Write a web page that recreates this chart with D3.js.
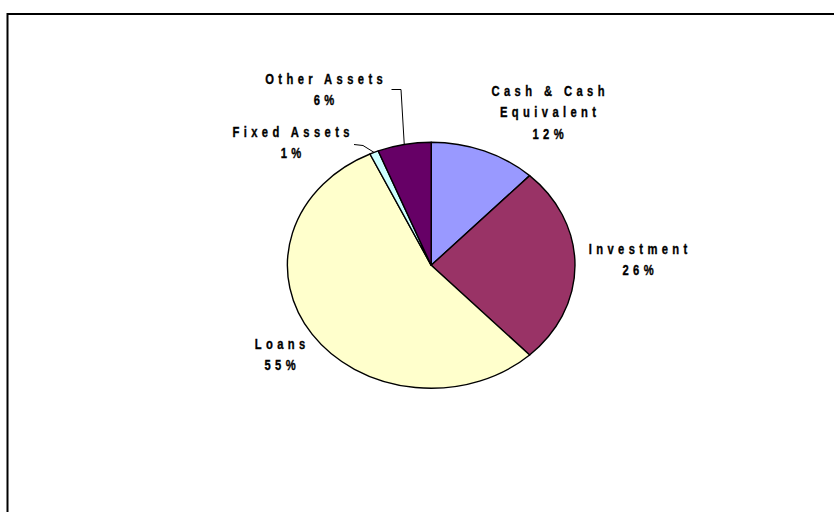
<!DOCTYPE html>
<html>
<head>
<meta charset="utf-8">
<script src="https://cdn.jsdelivr.net/npm/d3@7"></script>
<style>
  html, body { margin: 0; padding: 0; background: #fff; }
  svg { display: block; }
</style>
</head>
<body>
<svg id="chart" width="834" height="512"></svg>
<script>
// Asset composition (percent of total)
const categories = ["Cash & Cash Equivalent", "Investment", "Loans", "Fixed Assets", "Other Assets"];
const shares = [12, 26, 55, 1, 6];
const sliceColors = ["#9999FF", "#993366", "#FFFFCC", "#CCFFFF", "#660066"];

// Label text split into lines
const labelLines = [
  ["Cash & Cash", "Equivalent"],
  ["Investment"],
  ["Loans"],
  ["Fixed Assets"],
  ["Other Assets"]
];

// Label placement (centre x, first line baseline y)
const labelLayout = {
  "Cash & Cash Equivalent": { x: 548, y: 95.5 },
  "Investment": { x: 638, y: 253.5 },
  "Loans": { x: 280, y: 348.5 },
  "Fixed Assets": { x: 291, y: 136.5 },
  "Other Assets": { x: 324, y: 83.5 }
};
// Elbow points of the leader lines for the thin slices
const leaderElbows = {
  "Fixed Assets": [[354, 144.5], [363, 145.5]],
  "Other Assets": [[391.5, 89.5], [401, 89.5]]
};

const svg = d3.select("#chart");
const W = 834, H = 512;

// Chart area frame (runs off the right and bottom edges)
svg.append("rect")
  .attr("x", 7.5).attr("y", 14)
  .attr("width", W + 200).attr("height", H + 200)
  .attr("fill", "none").attr("stroke", "#000").attr("stroke-width", 2);

const cx = 431.2, cy = 265.3, rx = 143.8, ry = 123;

const pie = d3.pie().sort(null).value(d => d.value);
const arcs = pie(categories.map((c, i) => ({ name: c, value: shares[i], color: sliceColors[i], lines: labelLines[i] })));
const arc = d3.arc().innerRadius(0).outerRadius(ry);

// Pie drawn on a circle and stretched horizontally into an ellipse
const pieG = svg.append("g")
  .attr("transform", `translate(${cx},${cy}) scale(${rx / ry},1)`);

pieG.selectAll("path")
  .data(arcs)
  .join("path")
  .attr("d", arc)
  .attr("fill", d => d.data.color)
  .attr("stroke", "#000")
  .attr("stroke-width", 1.4)
  .attr("stroke-linejoin", "round")
  .attr("vector-effect", "non-scaling-stroke");

// Point on the ellipse edge at a slice's middle angle
function edgePoint(d) {
  const a = (d.startAngle + d.endAngle) / 2;
  return [cx + Math.sin(a) * rx, cy - Math.cos(a) * ry];
}

// Leader lines for the thin slices
arcs.forEach(d => {
  const elbow = leaderElbows[d.data.name];
  if (!elbow) return;
  const pts = elbow.concat([edgePoint(d)]);
  svg.append("path")
    .attr("d", d3.line()(pts))
    .attr("fill", "none")
    .attr("stroke", "#000")
    .attr("stroke-width", 1);
});

// Labels: name lines followed by the percentage
const fmt = d3.format(".0%");
const total = d3.sum(shares);
const spacing = 5.5, xScale = 0.8, lineGap = 22;

arcs.forEach(d => {
  const lay = labelLayout[d.data.name];
  const lines = d.data.lines.concat([fmt(d.data.value / total)]);
  const g = svg.append("g")
    .attr("transform", `translate(${lay.x},${lay.y}) scale(${xScale},1)`);
  const t = g.append("text")
    .attr("text-anchor", "middle")
    .attr("font-family", "Arial, 'Liberation Sans', sans-serif")
    .attr("font-weight", "bold")
    .attr("font-size", 14)
    .attr("letter-spacing", spacing)
    .attr("fill", "#000")
    .attr("stroke", "#000")
    .attr("stroke-width", 0.35);
  lines.forEach((ln, i) => {
    t.append("tspan")
      .attr("x", spacing / 2)
      .attr("y", i * lineGap)
      .text(ln);
  });
});
</script>
</body>
</html>
